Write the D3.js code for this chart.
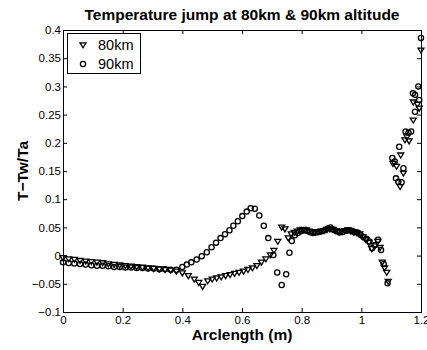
<!DOCTYPE html>
<html>
<head>
<meta charset="utf-8">
<script src="https://cdn.jsdelivr.net/npm/d3@7"></script>
<style>
  body { margin: 0; background: #fff; }
  svg { display: block; font-family: "Liberation Sans", Arial, sans-serif; }
</style>
</head>
<body>
<div id="chart"></div>
<script>
// arclength (m) and T-Tw/Ta for each altitude
const arc80 = [
  0, .019, .038, .057, .076, .095, .114, .133, .152, .171, .19, .209, .228, .247, .266, .285, .304, .323, .342, .361, .38,
  .40, .42, .44, .455, .468, .485, .50, .515, .53, .545, .56, .575, .59, .605, .62, .635, .65, .665, .68, .695, .707,
  .72, .733, .744, .755, .765,
  .775, .785, .795, .805, .815, .825, .835, .845, .855, .865, .875, .885, .895, .905, .915, .925, .935, .945, .955,
  .965, .975, .985, .995, 1.005, 1.015, 1.025, 1.035, 1.045, 1.055, 1.063, 1.07, 1.078, 1.085, 1.09,
  1.106, 1.118, 1.13, 1.141, 1.132, 1.146, 1.153, 1.16, 1.174, 1.174, 1.188, 1.194, 1.2
];
const tj80 = [
  -.004, -.006, -.007, -.009, -.010, -.011, -.012, -.013, -.015, -.016, -.017, -.018, -.019, -.020, -.021, -.022, -.023, -.024, -.025, -.026, -.028,
  -.031, -.036, -.042, -.048, -.055, -.045, -.042, -.040, -.038, -.036, -.034, -.032, -.030, -.028, -.025, -.022, -.018, -.012, -.006, .001, .009,
  .025, .050, .047, .031, .038,
  .041, .043, .045, .046, .045, .043, .042, .041, .042, .043, .044, .046, .047, .046, .044, .042, .043, .044, .045,
  .043, .041, .040, .038, .033, .028, .023, .012, .017, .025, .014, -.012, -.022, -.030, -.046,
  .163, .158, .122, .146, .178, .205, .210, .203, .240, .272, .268, .261, .364
];

const arc90 = [
  0, .019, .038, .057, .076, .095, .114, .133, .152, .171, .19, .209, .228, .247, .266, .285, .304, .323, .342, .361, .38,
  .40, .415, .43, .448, .465, .482, .498, .513, .528, .543, .558, .571, .586, .601, .616, .629, .643, .658, .673, .688,
  .705, .718, .733, .748, .759, .767, .777,
  .787, .797, .807, .817, .827, .837, .847, .857, .867, .877, .887, .897, .907, .917, .927, .937, .947, .957, .967,
  .977, .987, .997, 1.007, 1.017, 1.027, 1.036, 1.046, 1.056, 1.066, 1.075, 1.088,
  1.104, 1.112, 1.116, 1.124, 1.135, 1.141, 1.127, 1.148, 1.158, 1.167, 1.18, 1.173, 1.18, 1.194, 1.191, 1.2
];
const tj90 = [
  -.012, -.013, -.014, -.015, -.016, -.017, -.018, -.018, -.019, -.020, -.020, -.021, -.021, -.022, -.022, -.023, -.023, -.024, -.024, -.025, -.025,
  -.020, -.016, -.012, -.007, -.001, .006, .015, .023, .031, .038, .045, .053, .061, .070, .078, .084, .083, .071, .053, .031,
  .001, -.030, -.052, -.033, .005, .026, .036,
  .040, .043, .045, .044, .042, .040, .041, .042, .043, .045, .048, .050, .046, .043, .041, .042, .044, .045, .044,
  .042, .041, .037, .033, .030, .025, .013, .019, .028, .010, -.015, -.049,
  .173, .167, .137, .131, .130, .155, .193, .220, .218, .220, .255, .288, .285, .276, .300, .386
];

const xTicks = [0, 0.2, 0.4, 0.6, 0.8, 1, 1.2];
const yTicks = [-0.1, -0.05, 0, 0.05, 0.1, 0.15, 0.2, 0.25, 0.3, 0.35, 0.4];
const seriesNames = ["80km", "90km"];

const width = 427;
const height = 350;
const plot = { left: 63, right: 421, top: 30, bottom: 312 };

const x = d3.scaleLinear().domain([0, 1.2]).range([plot.left, plot.right]);
const y = d3.scaleLinear().domain([-0.1, 0.4]).range([plot.bottom, plot.top]);

const fmt = (d) => (d === 0 ? "0" : String(d).replace("-", "\u2212"));

const svg = d3.select("#chart")
  .append("svg")
  .attr("width", width)
  .attr("height", height);

svg.append("rect").attr("width", width).attr("height", height).attr("fill", "#fff");

// axes — MATLAB style: ticks point inward, labels only on bottom/left
const tickLen = 4;
function styleAxis(g, fontSize) {
  g.select(".domain").remove();
  g.selectAll(".tick line").attr("stroke", "#000").attr("stroke-width", 1);
  g.selectAll(".tick text").attr("fill", "#000").style("font-size", fontSize);
}

svg.append("g")
  .attr("transform", `translate(0,${plot.bottom})`)
  .call(d3.axisBottom(x).tickValues(xTicks).tickFormat(fmt)
    .tickSizeInner(-tickLen).tickSizeOuter(0).tickPadding(4))
  .call((g) => styleAxis(g, "11.5px"));

svg.append("g")
  .attr("transform", `translate(0,${plot.top})`)
  .call(d3.axisTop(x).tickValues(xTicks).tickFormat("")
    .tickSizeInner(-tickLen).tickSizeOuter(0))
  .call((g) => styleAxis(g, "11.5px"));

svg.append("g")
  .attr("transform", `translate(${plot.left},0)`)
  .call(d3.axisLeft(y).tickValues(yTicks).tickFormat(fmt)
    .tickSizeInner(-tickLen).tickSizeOuter(0).tickPadding(2))
  .call((g) => styleAxis(g, "11.5px"));

svg.append("g")
  .attr("transform", `translate(${plot.right},0)`)
  .call(d3.axisRight(y).tickValues(yTicks).tickFormat("")
    .tickSizeInner(-tickLen).tickSizeOuter(0))
  .call((g) => styleAxis(g, "11.5px"));

svg.append("rect")
  .attr("x", plot.left + 0.5)
  .attr("y", plot.top + 0.5)
  .attr("width", plot.right - plot.left)
  .attr("height", plot.bottom - plot.top)
  .attr("fill", "none")
  .attr("stroke", "#000")
  .attr("stroke-width", 1);

// markers (a touch heavier than 1px, like the reference)
const triPath = "M-3,-2.2L3,-2.2L0,2.8Z";
const markStroke = 1.3;

svg.append("g")
  .selectAll("path")
  .data(d3.zip(arc80, tj80))
  .join("path")
  .attr("d", triPath)
  .attr("transform", (d) => `translate(${x(d[0])},${y(d[1])})`)
  .attr("fill", "none")
  .attr("stroke", "#000")
  .attr("stroke-width", markStroke);

svg.append("g")
  .selectAll("circle")
  .data(d3.zip(arc90, tj90))
  .join("circle")
  .attr("cx", (d) => x(d[0]))
  .attr("cy", (d) => y(d[1]))
  .attr("r", 2.6)
  .attr("fill", "none")
  .attr("stroke", "#000")
  .attr("stroke-width", markStroke);

// legend
const legend = svg.append("g");
legend.append("rect")
  .attr("x", 67.5).attr("y", 33.5)
  .attr("width", 73).attr("height", 40)
  .attr("fill", "#fff").attr("stroke", "#000").attr("stroke-width", 1);

seriesNames.forEach((name, i) => {
  const cy = 45 + i * 19;
  if (i === 0) {
    legend.append("path").attr("d", triPath)
      .attr("transform", `translate(83,${cy})`)
      .attr("fill", "none").attr("stroke", "#000").attr("stroke-width", markStroke);
  } else {
    legend.append("circle").attr("cx", 83).attr("cy", cy).attr("r", 2.6)
      .attr("fill", "none").attr("stroke", "#000").attr("stroke-width", markStroke);
  }
  legend.append("text")
    .attr("x", 98).attr("y", cy).attr("dy", "0.36em")
    .style("font-size", "14.5px")
    .text(name);
});

// labels
svg.append("text")
  .attr("x", (plot.left + plot.right) / 2).attr("y", 19.5)
  .attr("text-anchor", "middle")
  .style("font-size", "15.5px").style("font-weight", "bold")
  .text("Temperature jump at 80km & 90km altitude");

svg.append("text")
  .attr("x", (plot.left + plot.right) / 2).attr("y", 339.5)
  .attr("text-anchor", "middle")
  .style("font-size", "15.5px").style("font-weight", "bold")
  .text("Arclength (m)");

svg.append("text")
  .attr("transform", `translate(27.5,${(plot.top + plot.bottom) / 2}) rotate(-90)`)
  .attr("text-anchor", "middle")
  .style("font-size", "15.5px").style("font-weight", "bold")
  .text("T\u2212Tw/Ta");
</script>
</body>
</html>
